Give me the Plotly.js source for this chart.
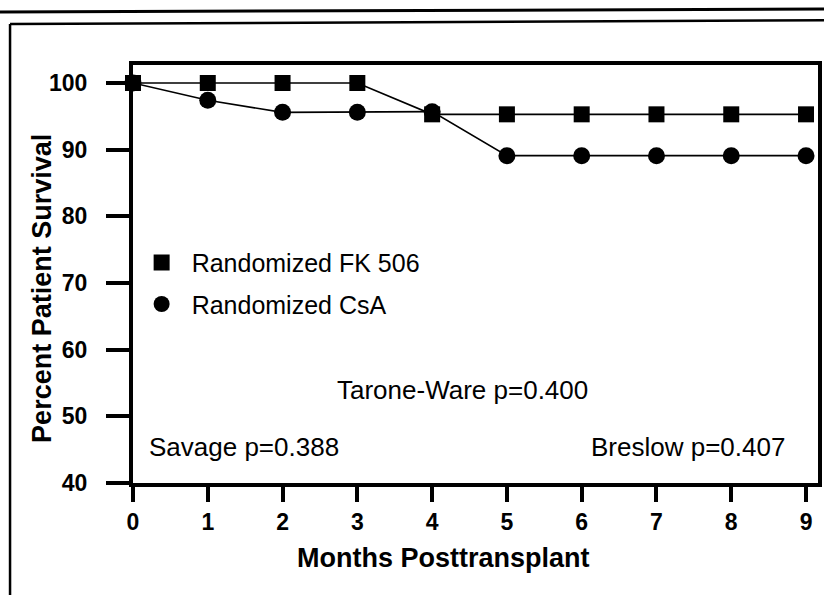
<!DOCTYPE html>
<html>
<head>
<meta charset="utf-8">
<script src="https://cdn.plot.ly/plotly-3.0.1.min.js"></script>
<style>html,body{margin:0;padding:0;background:#fff;}#chart{width:824px;height:595px;}</style>
</head>
<body>
<div id="chart"></div>
<script>
// Data
const months = [0, 1, 2, 3, 4, 5, 6, 7, 8, 9];
const fk506Survival = [100, 100, 100, 100, 95.3, 95.3, 95.3, 95.3, 95.3, 95.3];
const csaSurvival = [100, 97.4, 95.6, 95.6, 95.7, 89.1, 89.1, 89.1, 89.1, 89.1];
const seriesNames = ["Randomized FK 506", "Randomized CsA"];
const xTickLabels = ["0", "1", "2", "3", "4", "5", "6", "7", "8", "9"];
const yTickValues = [40, 50, 60, 70, 80, 90, 100];
const statTexts = ["Tarone-Ware p=0.400", "Savage p=0.388", "Breslow p=0.407"];
const xTitle = "Months Posttransplant";
const yTitle = "Percent Patient Survival";

const FONT = "Liberation Sans, Arial, Helvetica, sans-serif";

const traces = [
  {x: months, y: fk506Survival, mode: "lines+markers", showlegend: false,
   line: {color: "#000", width: 1.6},
   marker: {symbol: "square", size: 16, color: "#000"}, cliponaxis: false},
  {x: months, y: csaSurvival, mode: "lines+markers", showlegend: false,
   line: {color: "#000", width: 1.6},
   marker: {symbol: "circle", size: 17, color: "#000"}, cliponaxis: false},
  {x: [null], y: [null], mode: "markers", name: seriesNames[0], legendgroup: "a",
   marker: {symbol: "square", size: 16, color: "#000"}},
  {x: [null], y: [null], mode: "markers", name: seriesNames[1], legendgroup: "b",
   marker: {symbol: "circle", size: 17, color: "#000"}}
];

const layout = {
  width: 824, height: 595,
  margin: {l: 133, r: 6, t: 65, b: 112},
  paper_bgcolor: "#fff", plot_bgcolor: "#fff",
  font: {family: FONT, color: "#000"},
  showlegend: true,
  legend: {x: -0.002, y: 0.582, xanchor: "left", yanchor: "top", itemwidth: 50,
           font: {family: FONT, size: 25, color: "#000"},
           bgcolor: "rgba(0,0,0,0)", traceorder: "grouped", tracegroupgap: 6},
  xaxis: {range: [0, 9.16], tickvals: months, ticktext: xTickLabels,
          ticks: "outside", ticklen: 15, tickwidth: 4, tickcolor: "#000",
          showline: true, linewidth: 4, linecolor: "#000", mirror: true,
          showgrid: false, zeroline: false,
          tickfont: {family: FONT, size: 23, color: "#000", weight: "bold"}},
  yaxis: {range: [40, 102.7], tickvals: yTickValues,
          ticks: "outside", ticklen: 23, tickwidth: 4, tickcolor: "#000",
          ticklabelstandoff: 14,
          showline: true, linewidth: 4, linecolor: "#000", mirror: true,
          showgrid: false, zeroline: false,
          tickfont: {family: FONT, size: 23, color: "#000", weight: "bold"}},
  annotations: [
    {text: statTexts[0], x: 4.41, y: 53.95, xref: "x", yref: "y", showarrow: false,
     xanchor: "center", yanchor: "middle", font: {family: FONT, size: 26, color: "#000"}},
    {text: statTexts[1], x: 0.19, y: 45.4, xref: "x", yref: "y", showarrow: false,
     xanchor: "left", yanchor: "middle", font: {family: FONT, size: 26, color: "#000"}},
    {text: statTexts[2], x: 8.74, y: 45.4, xref: "x", yref: "y", showarrow: false,
     xanchor: "right", yanchor: "middle", font: {family: FONT, size: 26, color: "#000"}},
    {text: xTitle, x: 0.454, y: -0.179, xref: "paper", yref: "paper", showarrow: false,
     xanchor: "center", yanchor: "middle",
     font: {family: FONT, size: 27, color: "#000", weight: "bold"}},
    {text: yTitle, x: -0.133, y: 0.4665, xref: "paper", yref: "paper", showarrow: false,
     textangle: -90, xanchor: "center", yanchor: "middle",
     font: {family: FONT, size: 27, color: "#000", weight: "bold"}}
  ],
  shapes: [
    // scanned page rule at top
    {type: "line", xref: "paper", yref: "paper",
     x0: -0.2, y0: 1.1268, x1: 1.02, y1: 1.134, line: {color: "#000", width: 3}},
    // outer figure box (left + top edges)
    {type: "line", xref: "paper", yref: "paper",
     x0: -0.1795, y0: 1.098, x1: 1.02, y1: 1.107, line: {color: "#000", width: 2.5}},
    {type: "line", xref: "paper", yref: "paper",
     x0: -0.1795, y0: 1.098, x1: -0.1795, y1: -0.3, line: {color: "#000", width: 2.5}}
  ]
};

Plotly.newPlot("chart", traces, layout, {displayModeBar: false, staticPlot: true});
</script>
</body>
</html>
